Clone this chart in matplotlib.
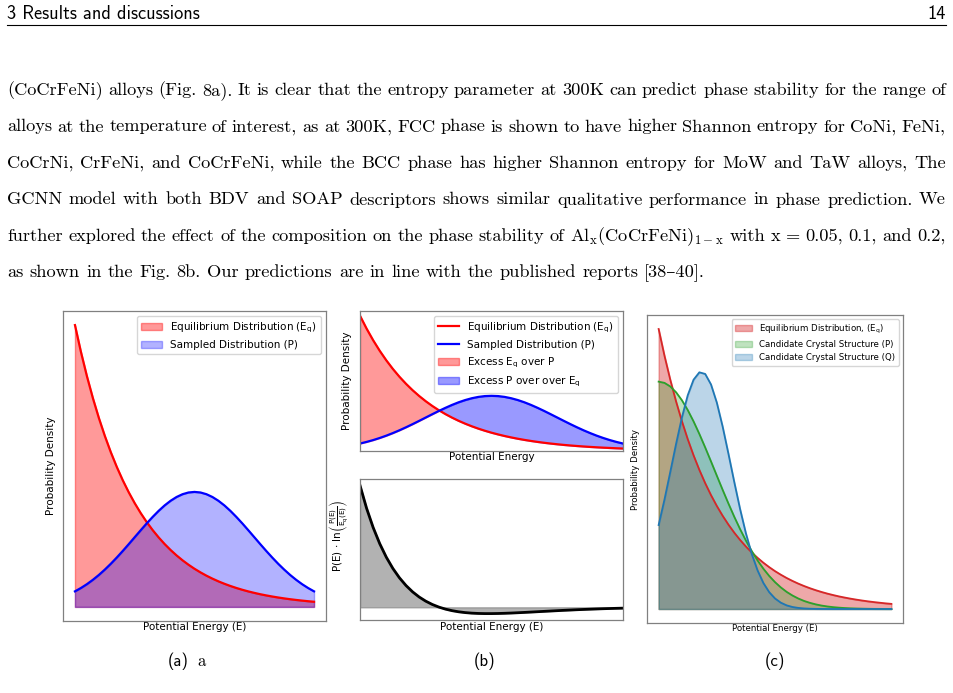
import matplotlib
matplotlib.use('Agg')
import matplotlib.pyplot as plt
import numpy as np
from matplotlib.lines import Line2D

plt.rcParams['mathtext.fontset'] = 'dejavusans'

W, H = 954, 693

# values (x normalised to 0..1, peak of E_q = 1)
energy = [0.0, 0.025, 0.05, 0.075, 0.1, 0.125, 0.15, 0.175, 0.2, 0.225,
          0.25, 0.275, 0.3, 0.325, 0.35, 0.375, 0.4, 0.425, 0.45, 0.475,
          0.5, 0.525, 0.55, 0.575, 0.6, 0.625, 0.65, 0.675, 0.7, 0.725,
          0.75, 0.775, 0.8, 0.825, 0.85, 0.875, 0.9, 0.925, 0.95, 0.975, 1.0]
eq_dist = [1.0, 0.9048, 0.8187, 0.7408, 0.6703, 0.6065, 0.5488, 0.4966, 0.4493, 0.4066,
           0.3679, 0.3329, 0.3012, 0.2725, 0.2466, 0.2231, 0.2019, 0.1827, 0.1653, 0.1496,
           0.1353, 0.1225, 0.1108, 0.1003, 0.0907, 0.0821, 0.0743, 0.0672, 0.0608, 0.0550,
           0.0498, 0.0450, 0.0408, 0.0369, 0.0334, 0.0302, 0.0273, 0.0247, 0.0224, 0.0202, 0.0183]
sampled = [0.0552, 0.0671, 0.0807, 0.0962, 0.1134, 0.1325, 0.1531, 0.1753, 0.1986, 0.2228,
           0.2475, 0.2721, 0.2963, 0.3193, 0.3408, 0.3601, 0.3766, 0.3900, 0.3999, 0.4060,
           0.4080, 0.4060, 0.3999, 0.3900, 0.3766, 0.3601, 0.3408, 0.3193, 0.2963, 0.2721,
           0.2475, 0.2228, 0.1986, 0.1753, 0.1531, 0.1325, 0.1134, 0.0962, 0.0807, 0.0671, 0.0552]
kl_term = [2.8965, 2.3538, 1.8965, 1.5123, 1.1908, 0.9228, 0.7005, 0.5172, 0.3669, 0.2446,
           0.1459, 0.0671, 0.0050, -0.0432, -0.0798, -0.1068, -0.1259, -0.1386, -0.1460, -0.1494,
           -0.1493, -0.1468, -0.1422, -0.1363, -0.1291, -0.1214, -0.1132, -0.1047, -0.0963, -0.0879,
           -0.0799, -0.0719, -0.0646, -0.0575, -0.0509, -0.0447, -0.0389, -0.0336, -0.0288, -0.0242, -0.0202]
cand_p = [0.8120, 0.8077, 0.7948, 0.7739, 0.7455, 0.7105, 0.6700, 0.6250, 0.5769, 0.5269,
          0.4760, 0.4255, 0.3764, 0.3293, 0.2851, 0.2442, 0.2070, 0.1735, 0.1439, 0.1181,
          0.0959, 0.0771, 0.0612, 0.0482, 0.0375, 0.0288, 0.0220, 0.0166, 0.0123, 0.0091,
          0.0066, 0.0048, 0.0034, 0.0024, 0.0017, 0.0012, 0.0008, 0.0005, 0.0004, 0.0002, 0.0002]
cand_q = [0.2999, 0.3906, 0.4895, 0.5900, 0.6841, 0.7632, 0.8189, 0.8453, 0.8395, 0.8019,
          0.7370, 0.6515, 0.5540, 0.4533, 0.3568, 0.2701, 0.1967, 0.1379, 0.0929, 0.0602,
          0.0376, 0.0226, 0.0130, 0.0072, 0.0039, 0.0020, 0.0010, 0.0005, 0.0002, 0.0001,
          0.0, 0.0, 0.0, 0.0, 0.0, 0.0, 0.0, 0.0, 0.0, 0.0, 0.0]

body_lines = [
    "(CoCrFeNi) alloys (Fig. 8a). It is clear that the entropy parameter at 300K can predict phase stability for the range of",
    "alloys at the temperature of interest, as at 300K, FCC phase is shown to have higher Shannon entropy for CoNi, FeNi,",
    "CoCrNi, CrFeNi, and CoCrFeNi, while the BCC phase has higher Shannon entropy for MoW and TaW alloys, The",
    "GCNN model with both BDV and SOAP descriptors shows similar qualitative performance in phase prediction. We",
    r"further explored the effect of the composition on the phase stability of Al$_\mathrm{x}$(CoCrFeNi)$_{1-\mathrm{x}}$ with x = 0.05, 0.1, and 0.2,",
    "as shown in the Fig. 8b. Our predictions are in line with the published reports [38\u201340].",
]

eq = np.array(eq_dist)
p = np.array(sampled)

fig = plt.figure(figsize=(W / 100, H / 100), dpi=100)
renderer = fig.canvas.get_renderer()

BODY_FONT = ['cmr10', 'DejaVu Serif']
BODY_FS = 13.2
LEFT, RIGHT = 7, 946


def put_line(line, y, justify=True):
    words = line.split(' ')
    texts = [fig.text(0, 1 - y / H, w, fontsize=BODY_FS, family=BODY_FONT,
                      math_fontfamily='cm', va='baseline', ha='left') for w in words]
    widths = [t.get_window_extent(renderer).width for t in texts]
    if justify:
        gap = (RIGHT - LEFT - sum(widths)) / (len(words) - 1)
    else:
        gap = 0.34 * BODY_FS * 100 / 72
    x = LEFT
    for t, w in zip(texts, widths):
        t.set_x(x / W)
        x += w + gap


# header
fig.text(7 / W, 1 - 19 / H, '3 Results and discussions', family='cmss10', fontsize=13.2, va='baseline')
fig.text(946 / W, 1 - 19 / H, '14', family='cmss10', fontsize=13.2, va='baseline', ha='right')
fig.add_artist(Line2D([7 / W, 946 / W], [1 - 25 / H, 1 - 25 / H], color='k', lw=0.8,
                      transform=fig.transFigure))

for k, line in enumerate(body_lines):
    put_line(line, 95 + 36.5 * k, justify=(k < len(body_lines) - 1))


def panel(x0, y0, x1, y1):
    ax = fig.add_axes([x0 / W, 1 - y1 / H, (x1 - x0) / W, (y1 - y0) / H])
    ax.set_xticks([])
    ax.set_yticks([])
    for s in ax.spines.values():
        s.set_color('0.5')
        s.set_linewidth(0.9)
    return ax


# (a)
ax = panel(63, 311, 326, 621)
ax.plot(energy, eq_dist, color='red', lw=1.6)
ax.plot(energy, sampled, color='blue', lw=1.6)
ax.fill_between(energy, eq_dist, color='red', alpha=0.4, label=r'Equilibrium Distribution (E$_\mathrm{q}$)')
ax.fill_between(energy, sampled, color='blue', alpha=0.3, label='Sampled Distribution (P)')
ax.legend(loc='upper right', fontsize=7.5)
ax.set_xlabel('Potential Energy (E)', fontsize=7.5)
ax.set_ylabel('Probability Density', fontsize=7.5)
ax.yaxis.set_label_coords(-0.028, 0.5)
ax.xaxis.set_label_coords(0.5, -0.004)

# (b) top
ax = panel(360, 311, 623, 451)
ax.plot(energy, eq_dist, color='red', lw=1.6, label=r'Equilibrium Distribution (E$_\mathrm{q}$)')
ax.plot(energy, sampled, color='blue', lw=1.6, label='Sampled Distribution (P)')
ax.fill_between(energy, eq_dist, sampled, where=eq >= p, interpolate=True, color='red', alpha=0.4,
                label=r'Excess E$_\mathrm{q}$ over P')
ax.fill_between(energy, eq_dist, sampled, where=eq <= p, interpolate=True, color='blue', alpha=0.4,
                label=r'Excess P over over E$_\mathrm{q}$')
ax.set_xlim(0, 1)
ax.set_ylim(0, 1.035)
ax.legend(loc='upper right', fontsize=7.5)
ax.set_xlabel('Potential Energy', fontsize=7.5)
ax.set_ylabel('Probability Density', fontsize=7.5)
ax.yaxis.set_label_coords(-0.030, 0.5)
ax.xaxis.set_label_coords(0.5, -0.009)

# (b) bottom
ax = panel(360, 479, 623, 620)
ax.plot(energy, kl_term, color='black', lw=2)
ax.fill_between(energy, kl_term, 0, color='gray', alpha=0.6)
ax.set_xlim(0, 1)
ax.set_xlabel('Potential Energy (E)', fontsize=7.5)
ax.set_ylabel(r'P(E) $\cdot$ ln$\left(\frac{\mathrm{P(E)}}{\mathrm{E_q(E)}}\right)$', fontsize=7.5)
ax.yaxis.set_label_coords(-0.035, 0.60)
ax.xaxis.set_label_coords(0.5, -0.016)

# (c)
ax = panel(647, 315, 903, 623)
ax.plot(energy, eq_dist, color='tab:red', lw=1.3)
ax.fill_between(energy, eq_dist, color='tab:red', alpha=0.4, label=r'Equilibrium Distribution, (E$_\mathrm{q}$)')
ax.plot(energy, cand_p, color='tab:green', lw=1.3)
ax.fill_between(energy, cand_p, color='tab:green', alpha=0.3, label='Candidate Crystal Structure (P)')
ax.plot(energy, cand_q, color='tab:blue', lw=1.3)
ax.fill_between(energy, cand_q, color='tab:blue', alpha=0.3, label='Candidate Crystal Structure (Q)')
ax.legend(loc='upper right', fontsize=6.2)
ax.set_xlabel('Potential Energy (E)', fontsize=6.2)
ax.set_ylabel('Probability Density', fontsize=6.2)
ax.yaxis.set_label_coords(-0.028, 0.5)
ax.xaxis.set_label_coords(0.5, -0.004)

# sub-captions
fig.text(168 / W, 1 - 666 / H, '(a)', family='cmss10', fontsize=12, va='baseline')
fig.text(197 / W, 1 - 666 / H, 'a', family=BODY_FONT, fontsize=12, va='baseline')
fig.text(485 / W, 1 - 666 / H, '(b)', family='cmss10', fontsize=12, va='baseline', ha='center')
fig.text(774.6 / W, 1 - 666 / H, '(c)', family='cmss10', fontsize=12, va='baseline', ha='center')

fig.savefig('out.png', dpi=100)
